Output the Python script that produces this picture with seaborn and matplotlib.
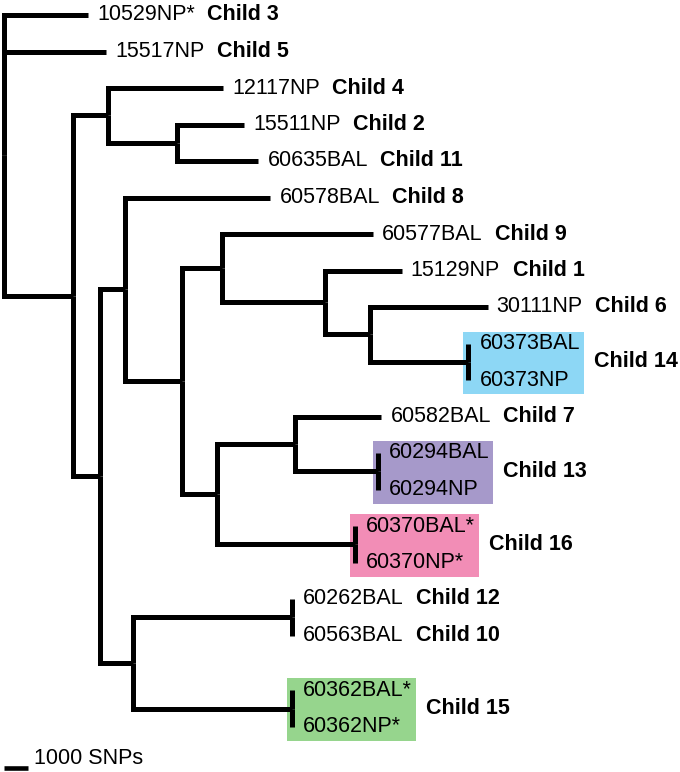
import pandas as pd
import matplotlib.pyplot as plt
import seaborn as sns
from matplotlib.patches import Rectangle

# tree edges: parent -> child, branch length in SNPs
parents = ["root", "root", "root",
           "A", "B", "B", "D", "D",
           "A", "C", "E", "E", "F", "G", "G", "I", "I", "J", "J", "K", "K",
           "F", "H", "L", "L", "P", "P", "H", "N", "N",
           "C", "M", "Q", "Q", "M", "R", "R"]
children = ["10529NP*", "15517NP", "A",
            "B", "12117NP", "D", "15511NP", "60635BAL",
            "C", "E", "60578BAL", "F", "G", "60577BAL", "I", "15129NP", "J", "30111NP", "K",
            "60373BAL", "60373NP",
            "H", "L", "60582BAL", "P", "60294BAL", "60294NP", "N", "60370BAL*", "60370NP*",
            "M", "Q", "60262BAL", "60563BAL", "R", "60362BAL*", "60362NP*"]
branch_snps = [3500, 4250, 2875,
               1450, 4800, 2875, 2800, 3400,
               1125, 1050, 6050, 2375, 1650, 6300, 4300, 3200, 1875, 4900, 4100, 0, 0,
               1450, 3250, 3600, 3450, 0, 0, 5750, 0, 0,
               1375, 6625, 0, 0, 6625, 0, 0]

leaf_order = ["10529NP*", "15517NP", "12117NP", "15511NP", "60635BAL", "60578BAL",
              "60577BAL", "15129NP", "30111NP", "60373BAL", "60373NP", "60582BAL",
              "60294BAL", "60294NP", "60370BAL*", "60370NP*", "60262BAL", "60563BAL",
              "60362BAL*", "60362NP*"]
leaf_child = ["Child 3", "Child 5", "Child 4", "Child 2", "Child 11", "Child 8",
              "Child 9", "Child 1", "Child 6", "Child 14", "Child 14", "Child 7",
              "Child 13", "Child 13", "Child 16", "Child 16", "Child 12", "Child 10",
              "Child 15", "Child 15"]
box_colors = {"Child 14": "#8DD7F5", "Child 13": "#A699CA",
              "Child 16": "#F28DB6", "Child 15": "#96D58D"}

scale_snps = 1000
scale_label = f"{scale_snps} SNPs"

# layout in pixels
W, H = 680, 772
px_per_snp = 0.024
row_px = 36.5
root_px = 4
first_row_px = 15
row_gap = {"60362BAL*": 0.5}
fs = 15.5

kids, blen = {}, {}
for p, c, b in zip(parents, children, branch_snps):
    kids.setdefault(p, []).append(c)
    blen[c] = b

xpos, ypos = {}, {}
row = [0.0]


def layout(node, x):
    xpos[node] = x
    if node not in kids:
        row[0] += row_gap.get(node, 0)
        ypos[node] = row[0]
        row[0] += 1
        return
    for c in kids[node]:
        layout(c, x + blen[c])
    ys = [ypos[c] for c in kids[node]]
    ypos[node] = (min(ys) + max(ys)) / 2


layout("root", 0)

seg_rows = []
for i, (p, c) in enumerate(zip(parents, children)):
    for x, y in [(xpos[p], ypos[p]), (xpos[p], ypos[c]), (xpos[c], ypos[c])]:
        seg_rows.append({"edge": i, "x": x, "y": y})
seg = pd.DataFrame(seg_rows)

sns.set_theme(style="white")
plt.rcParams["font.family"] = ["Liberation Sans", "DejaVu Sans"]
plt.rcParams["text.color"] = "black"

fig = plt.figure(figsize=(W / 100, H / 100), dpi=100)
ax = fig.add_axes([0, 0, 1, 1])
sns.lineplot(data=seg, x="x", y="y", units="edge", estimator=None, sort=False,
             color="black", lw=3.6, legend=False, ax=ax,
             solid_joinstyle="miter", solid_capstyle="butt")
ax.set_xlim(-root_px / px_per_snp, (W - root_px) / px_per_snp)
ax.set_ylim((H - first_row_px) / row_px, -first_row_px / row_px)

# scale bar
bar_y = (767.5 - first_row_px) / row_px
scale_df = pd.DataFrame({"x": [0, scale_snps], "y": [bar_y, bar_y]})
sns.lineplot(data=scale_df, x="x", y="y", color="black", lw=3.3, ax=ax,
             solid_capstyle="butt", legend=False)
ax.text(scale_snps + 6 / px_per_snp, (759 - first_row_px) / row_px, scale_label,
        fontsize=fs, va="center", ha="left")
ax.axis("off")

# leaf labels
name_texts = {}
for leaf, cid in zip(leaf_order, leaf_child):
    pad = 9 if blen[leaf] > 0 else 11
    t = ax.text(xpos[leaf] + pad / px_per_snp, ypos[leaf], leaf,
                fontsize=fs, va="center", ha="left", zorder=3)
    name_texts[leaf] = t
    if cid not in box_colors:
        ax.annotate(cid, xy=(1, 0.5), xycoords=t, xytext=(9, 0),
                    textcoords="offset points", va="center", ha="left",
                    fontsize=fs, fontweight="bold")

# coloured boxes around identical pairs
fig.canvas.draw()
renderer = fig.canvas.get_renderer()
inv = ax.transData.inverted()
for cid, color in box_colors.items():
    members = [l for l, c in zip(leaf_order, leaf_child) if c == cid]
    right_px = max(name_texts[m].get_window_extent(renderer).x1 for m in members) + 4
    right = inv.transform((right_px, 0))[0]
    left = xpos[members[0]] - 5 / px_per_snp
    top = ypos[members[0]] - 12 / row_px
    bottom = ypos[members[-1]] + 14 / row_px
    ax.add_patch(Rectangle((left, top), right - left, bottom - top,
                           facecolor=color, edgecolor="none", zorder=0))
    ax.text(right + 10 / px_per_snp, (ypos[members[0]] + ypos[members[-1]]) / 2, cid,
            fontsize=fs, fontweight="bold", va="center", ha="left")

fig.savefig("out.png", dpi=100)
